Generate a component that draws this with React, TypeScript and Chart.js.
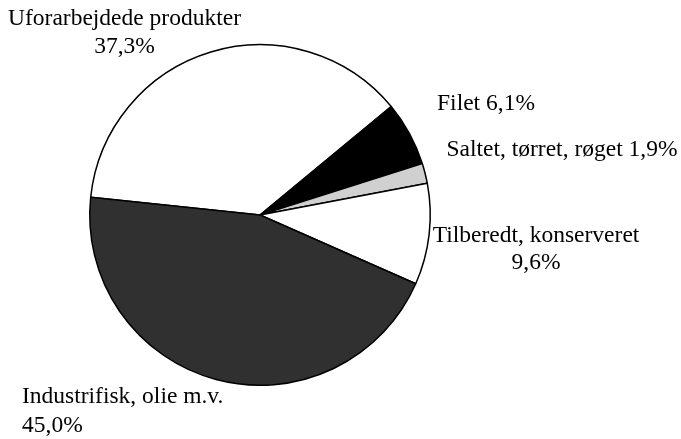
import React, { useEffect, useRef } from "react";
import { Chart, registerables } from "chart.js";

Chart.register(...registerables);

const categories = [
  "Uforarbejdede produkter",
  "Filet",
  "Saltet, tørret, røget",
  "Tilberedt, konserveret",
  "Industrifisk, olie m.v.",
];
const shares = [37.3, 6.1, 1.9, 9.6, 45.0];
const colors = ["#ffffff", "#000000", "#d0d0d0", "#ffffff", "#303030"];

// label layout: [x, y(baseline of first line), mode, align, line gap]
const labelLayout: [number, number, "two" | "one", CanvasTextAlign, number][] = [
  [124.5, 25, "two", "center", 28],
  [486, 110, "one", "center", 0],
  [562, 156, "one", "center", 0],
  [536, 242, "two", "center", 27],
  [22, 403, "two", "left", 29],
];

const FONT = '23.5px "Liberation Serif", "Times New Roman", "DejaVu Serif", serif';

const fmt = (v: number) => v.toFixed(1).replace(".", ",") + "%";

const labelPlugin = {
  id: "outerLabels",
  afterDraw(chart: any) {
    const ctx = chart.ctx as CanvasRenderingContext2D;
    ctx.save();
    ctx.fillStyle = "#000";
    ctx.font = FONT;
    ctx.textBaseline = "alphabetic";
    categories.forEach((name, i) => {
      const [x, y, mode, align, gap] = labelLayout[i];
      ctx.textAlign = align;
      if (mode === "one") {
        ctx.fillText(`${name} ${fmt(shares[i])}`, x, y);
      } else {
        ctx.fillText(name, x, y);
        ctx.fillText(fmt(shares[i]), x, y + gap);
      }
    });
    ctx.restore();
  },
};

export default function App() {
  const ref = useRef<HTMLCanvasElement | null>(null);
  useEffect(() => {
    if (!ref.current) return;
    const chart = new Chart(ref.current, {
      type: "pie",
      data: {
        labels: categories,
        datasets: [
          {
            data: shares,
            backgroundColor: colors,
            borderColor: "#000",
            borderWidth: 1.5,
          },
        ],
      },
      options: {
        responsive: false,
        animation: false,
        rotation: 276,
        layout: { padding: { left: 89, right: 250, top: 44, bottom: 53 } },
        plugins: {
          legend: { display: false },
          tooltip: { enabled: false },
        },
      },
      plugins: [labelPlugin],
    });
    let alive = true;
    if ((document as any).fonts) {
      (document as any).fonts.load(FONT).then(() => {
        if (alive) chart.draw();
      });
    }
    return () => {
      alive = false;
      chart.destroy();
    };
  }, []);
  return (
    <div style={{ position: "fixed", left: 0, top: 0, width: 681, height: 439, background: "#fff" }}>
      <span style={{ position: "absolute", left: -1000, top: 0, font: FONT }}>Aa</span>
      <canvas ref={ref} width={681} height={439} style={{ width: 681, height: 439 }} />
    </div>
  );
}
